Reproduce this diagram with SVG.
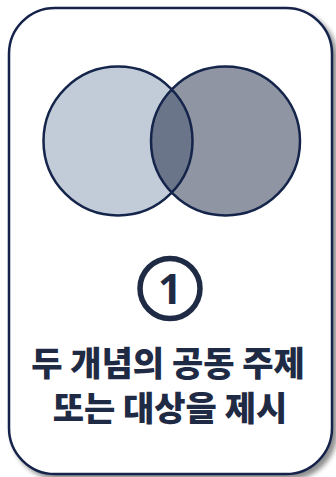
<svg xmlns="http://www.w3.org/2000/svg" width="336" height="477" viewBox="0 0 336 477">
<defs>
<filter id="sh" x="-10%" y="-10%" width="130%" height="130%">
<feGaussianBlur in="SourceAlpha" stdDeviation="2.5"/>
<feOffset dx="4" dy="4" result="b"/>
<feComponentTransfer><feFuncA type="linear" slope="0.45"/></feComponentTransfer>
<feMerge><feMergeNode/><feMergeNode in="SourceGraphic"/></feMerge>
</filter>
<clipPath id="cl"><circle cx="118" cy="141" r="74.5"/></clipPath>
</defs>
<style>
.ln{stroke:#14244a;stroke-width:2.5}
.t{font-family:"Noto Sans CJK KR","Noto Sans",sans-serif;font-weight:900;font-size:34px;fill:#1f2b44;text-anchor:middle}
</style>
<g id="card">
<rect x="9" y="8" width="323" height="466" rx="46" ry="46" fill="#ffffff" class="ln" filter="url(#sh)"/>
</g>
<g id="venn">
<circle id="left" cx="118" cy="141" r="74.5" fill="#c1ccd8"/>
<circle id="right" cx="225.5" cy="141" r="74.5" fill="#8f95a3"/>
<circle cx="225.5" cy="141" r="74.5" fill="#6b7589" clip-path="url(#cl)"/>
<circle cx="118" cy="141" r="74.5" fill="none" class="ln"/>
<circle cx="225.5" cy="141" r="74.5" fill="none" class="ln"/>
</g>
<g id="badge">
<circle cx="170" cy="288.5" r="30" fill="none" stroke="#1f2b44" stroke-width="5.5"/>
<text x="170" y="304" font-family="Noto Sans, sans-serif" font-weight="bold" font-size="42" fill="#1f2b44" text-anchor="middle">1</text>
</g>
<g id="label">
<text class="t" x="168" y="376">두 개념의 공동 주제</text>
<text class="t" x="170" y="421">또는 대상을 제시</text>
</g>
</svg>
